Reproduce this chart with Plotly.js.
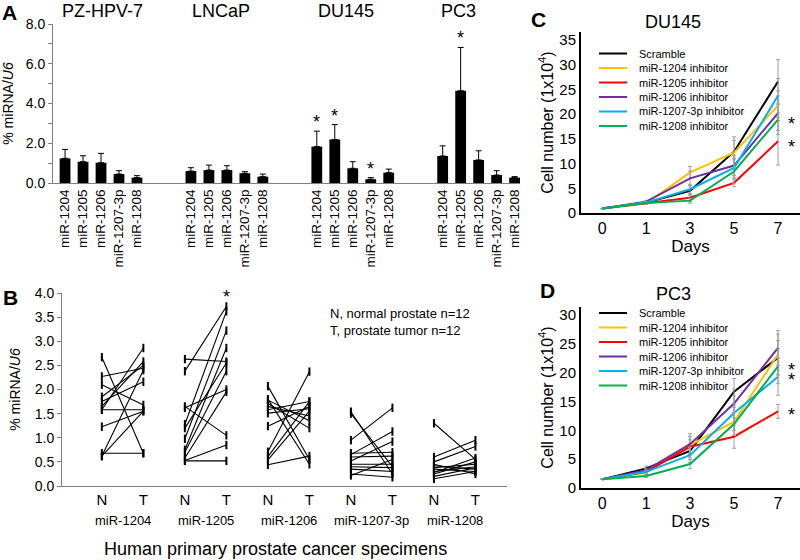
<!DOCTYPE html>
<html><head><meta charset="utf-8">
<script src="https://cdn.plot.ly/plotly-3.0.1.min.js"></script>
<style>html,body{margin:0;padding:0;background:#fff}#chart{width:800px;height:560px}</style>
</head><body><div id="chart"></div>
<script>
// ---------- Panel A data ----------
const cellLines = ['PZ-HPV-7', 'LNCaP', 'DU145', 'PC3'];
const mirnas = ['miR-1204', 'miR-1205', 'miR-1206', 'miR-1207-3p', 'miR-1208'];
const exprPZ = [1.24, 1.07, 1.02, 0.45, 0.27];
const errPZ = [0.45, 0.30, 0.47, 0.17, 0.10];
const exprLNCaP = [0.60, 0.65, 0.65, 0.49, 0.32];
const errLNCaP = [0.17, 0.25, 0.22, 0.08, 0.13];
const exprDU145 = [1.83, 2.19, 0.74, 0.19, 0.52];
const errDU145 = [0.78, 0.75, 0.33, 0.08, 0.18];
const exprPC3 = [1.36, 4.64, 1.16, 0.40, 0.27];
const errPC3 = [0.51, 2.18, 0.46, 0.22, 0.05];
const starsA = [[2, 0], [2, 1], [2, 3], [3, 1]]; // [cell line, miRNA]

// ---------- Panel B data (12 paired specimens) ----------
const normal1204 = [2.67, 2.27, 2.10, 1.85, 1.75, 1.65, 1.58, 1.58, 1.23, 0.68, 0.62, 0.62];
const tumor1204  = [0.68, 2.44, 1.68, 2.50, 2.16, 2.58, 1.58, 2.86, 1.55, 0.68, 1.55, 2.40];
const normal1205 = [2.63, 2.38, 1.65, 1.62, 1.28, 1.20, 0.98, 0.75, 0.70, 0.58, 0.53, 0.52];
const tumor1205  = [2.58, 3.72, 1.05, 2.00, 3.62, 2.55, 3.22, 2.86, 2.38, 1.95, 0.85, 0.52];
const normal1206 = [2.07, 1.80, 1.78, 1.71, 1.65, 1.58, 1.51, 1.24, 0.71, 0.61, 0.54, 0.44];
const tumor1206  = [0.55, 0.45, 1.35, 1.20, 1.45, 1.75, 1.60, 1.65, 2.37, 1.75, 1.55, 0.62];
const normal1207 = [1.54, 1.50, 0.95, 0.68, 0.65, 0.60, 0.52, 0.45, 0.40, 0.35, 0.25, 0.22];
const tumor1207  = [0.25, 0.40, 1.62, 0.70, 1.13, 0.62, 0.92, 0.45, 0.38, 0.30, 0.18, 0.55];
const normal1208 = [1.30, 0.60, 0.50, 0.45, 0.42, 0.38, 0.35, 0.30, 0.28, 0.25, 0.20, 0.15];
const tumor1208  = [0.55, 0.95, 0.82, 0.25, 0.35, 0.45, 0.30, 0.40, 0.58, 0.50, 0.38, 0.30];
const pairLabels = ['N', 'T'];

// ---------- Panels C/D data ----------
const days = ['0', '1', '3', '5', '7'];
const seriesNames = ['Scramble', 'miR-1204 inhibitor', 'miR-1205 inhibitor', 'miR-1206 inhibitor', 'miR-1207-3p inhibitor', 'miR-1208 inhibitor'];
const seriesColors = ['#000000', '#FFC000', '#FF0000', '#7030A0', '#00B0F0', '#00B050'];

const duScramble = [0.9, 2.1, 4.5, 12.4, 26.6];
const du1204 = [0.9, 1.9, 8.2, 12.2, 21.7];
const du1205 = [0.9, 2.0, 3.1, 6.1, 14.5];
const du1206 = [0.9, 2.3, 7.0, 9.6, 20.2];
const du1207 = [0.9, 2.1, 4.8, 9.1, 23.7];
const du1208 = [0.9, 2.0, 2.5, 8.4, 18.9];
const duScrambleErr = [null, 0.2, 1.0, 3.0, 4.4];
const du1204Err = [null, 0.2, 1.2, 2.5, 3.0];
const du1205Err = [null, 0.2, 0.8, 0.8, 4.8];
const du1206Err = [null, 0.2, 1.5, 2.0, 3.5];
const du1207Err = [null, 0.2, 1.0, 2.0, 3.5];
const du1208Err = [null, 0.2, 0.5, 2.5, 3.0];

const pcScramble = [1.5, 3.4, 6.45, 16.7, 22.6];
const pc1204 = [1.5, 2.65, 7.45, 11.5, 23.2];
const pc1205 = [1.5, 2.8, 7.15, 8.9, 13.3];
const pc1206 = [1.5, 3.1, 7.6, 14.65, 24.3];
const pc1207 = [1.5, 2.8, 5.7, 13.0, 19.3];
const pc1208 = [1.5, 2.1, 4.15, 11.1, 21.1];
const pcScrambleErr = [null, 0.4, 1.2, 2.3, 3.0];
const pc1204Err = [null, 0.3, 1.5, 2.5, 3.5];
const pc1205Err = [null, 0.3, 1.2, 2.0, 1.2];
const pc1206Err = [null, 0.3, 1.8, 2.5, 3.0];
const pc1207Err = [null, 0.3, 1.3, 3.0, 3.2];
const pc1208Err = [null, 0.3, 0.8, 2.0, 3.0];

// ---------- build ----------
const FONT = 'Liberation Sans, Arial, sans-serif';
const W = 800, H = 560;
const px = x => x / W;
const py = y => 1 - y / H;

const traces = [];
const annotations = [];
const shapes = [];
function note(o) {
  annotations.push(Object.assign({showarrow: false, xanchor: 'center', yanchor: 'middle'}, o));
}

// Panel A bars
const groupsA = [[exprPZ, errPZ], [exprLNCaP, errLNCaP], [exprDU145, errDU145], [exprPC3, errPC3]];
const GROUP_STEP = 7;
const barX = [], barY = [], barErr = [], tickText = [];
groupsA.forEach((g, gi) => {
  g[0].forEach((v, i) => {
    barX.push(gi * GROUP_STEP + i); barY.push(v); barErr.push(g[1][i]); tickText.push(mirnas[i]);
  });
});
traces.push({
  type: 'bar', x: barX, y: barY, width: 0.6, xaxis: 'x', yaxis: 'y',
  marker: {color: '#000'}, showlegend: false, hoverinfo: 'skip',
  error_y: {type: 'data', symmetric: false, array: barErr, arrayminus: barErr.map(() => 0), color: '#000', thickness: 1, width: 3}
});
starsA.forEach(([gi, i]) => {
  note({xref: 'x', yref: 'y', x: gi * GROUP_STEP + i, y: groupsA[gi][0][i] + groupsA[gi][1][i],
    text: '*', yshift: 9, font: {family: FONT, size: 18, color: '#000'}});
});
const titleXA = [102, 221, 346, 458];
cellLines.forEach((c, gi) => {
  note({xref: 'paper', yref: 'paper', x: px(titleXA[gi]), y: py(11), text: c, font: {family: FONT, size: 18, color: '#000'}});
});

// Panel B pairs
const pairsB = [[normal1204, tumor1204], [normal1205, tumor1205], [normal1206, tumor1206], [normal1207, tumor1207], [normal1208, tumor1208]];
pairsB.forEach((p, gi) => {
  p[0].forEach((n, k) => {
    traces.push({
      type: 'scatter', mode: 'lines+markers', x: [2 * gi, 2 * gi + 1], y: [n, p[1][k]],
      xaxis: 'x2', yaxis: 'y2', showlegend: false, hoverinfo: 'skip',
      line: {color: '#000', width: 1.1},
      marker: {symbol: 'line-ns-open', size: 6, color: '#000', line: {color: '#000', width: 2}}
    });
  });
  note({xref: 'x2', yref: 'paper', x: 2 * gi + 0.5, y: py(520), text: mirnas[gi], font: {family: FONT, size: 13, color: '#000'}});
});
note({xref: 'x2', yref: 'y2', x: 3, y: Math.max(...tumor1205), text: '*', yshift: 10, font: {family: FONT, size: 18, color: '#000'}});
note({xref: 'paper', yref: 'paper', x: px(328), y: py(313), xanchor: 'left', text: 'N, normal prostate n=12',
  font: {family: FONT, size: 13, color: '#000'}});
note({xref: 'paper', yref: 'paper', x: px(328), y: py(330), xanchor: 'left', text: 'T, prostate tumor n=12',
  font: {family: FONT, size: 13, color: '#000'}});
note({xref: 'paper', yref: 'paper', x: px(275), y: py(549), text: 'Human primary prostate cancer specimens',
  font: {family: FONT, size: 18, color: '#000'}});

// Panels C & D
const duVals = [duScramble, du1204, du1205, du1206, du1207, du1208];
const duErrs = [duScrambleErr, du1204Err, du1205Err, du1206Err, du1207Err, du1208Err];
const pcVals = [pcScramble, pc1204, pc1205, pc1206, pc1207, pc1208];
const pcErrs = [pcScrambleErr, pc1204Err, pc1205Err, pc1206Err, pc1207Err, pc1208Err];
function growth(vals, errs, xa, ya) {
  vals.forEach((v, s) => {
    traces.push({
      type: 'scatter', mode: 'lines', x: days, y: v, name: seriesNames[s], xaxis: xa, yaxis: ya,
      showlegend: false, hoverinfo: 'skip',
      line: {color: seriesColors[s], width: 2},
      error_y: {type: 'data', array: errs[s], color: '#a0a0a0', thickness: 1, width: 2}
    });
  });
}
growth(duVals, duErrs, 'x3', 'y3');
growth(pcVals, pcErrs, 'x4', 'y4');

function legend(top) {
  seriesNames.forEach((n, s) => {
    const y = top + s * 14.5;
    shapes.push({type: 'line', xref: 'paper', yref: 'paper', x0: px(599), x1: px(627), y0: py(y), y1: py(y),
      line: {color: seriesColors[s], width: 2}});
    note({xref: 'paper', yref: 'paper', x: px(637), y: py(y), xanchor: 'left', text: n,
      font: {family: FONT, size: 11, color: '#000'}});
  });
}
legend(53.5);
legend(313);

note({xref: 'paper', yref: 'paper', x: px(673), y: py(22), text: 'DU145', font: {family: FONT, size: 18, color: '#000'}});
note({xref: 'paper', yref: 'paper', x: px(673), y: py(294), text: 'PC3', font: {family: FONT, size: 18, color: '#000'}});
// significance stars C / D
[18.5, 13.8].forEach(v => note({xref: 'x3', yref: 'y3', x: 4.3, y: v, yshift: -2, text: '*',
  font: {family: FONT, size: 18, color: '#000'}}));
[21.0, 19.3, 13.1].forEach(v => note({xref: 'x4', yref: 'y4', x: 4.3, y: v, yshift: -3, text: '*',
  font: {family: FONT, size: 18, color: '#000'}}));

// panel letters
[['A', 9, 12], ['B', 10, 297], ['C', 538, 20], ['D', 547, 290]].forEach(([t, x, y]) => note({
  xref: 'paper', yref: 'paper', x: px(x), y: py(y), text: '<b>' + t + '</b>',
  font: {family: FONT, size: 21, color: '#000'}}));

const grayAxis = {showline: true, linecolor: '#808080', linewidth: 1, showgrid: false, zeroline: false,
  tickfont: {family: FONT, size: 14, color: '#000'}};
const blackAxis = {showline: true, linecolor: '#000', linewidth: 2, showgrid: false, zeroline: false,
  tickfont: {family: FONT, size: 16, color: '#000'}};

const layout = {
  width: W, height: H, autosize: false, margin: {l: 0, r: 0, t: 0, b: 0},
  paper_bgcolor: '#fff', plot_bgcolor: 'rgba(0,0,0,0)', showlegend: false,
  font: {family: FONT, color: '#000'},
  xaxis: Object.assign({}, grayAxis, {domain: [px(53), px(520)], anchor: 'y', range: [-0.67, 25.3],
    tickmode: 'array', tickvals: barX, ticktext: tickText, tickangle: -90, ticks: '', tickfont: {family: FONT, size: 13.5, color: '#000'}}),
  yaxis: Object.assign({}, grayAxis, {domain: [py(183), py(24)], anchor: 'x', range: [0, 8], dtick: 2, tickformat: '.1f',
    ticks: 'outside', ticklen: 4, tickcolor: '#808080', minor: {dtick: 1, ticks: 'outside', ticklen: 4, tickcolor: '#808080'},
    title: {text: '% miRNA/<i>U6</i>', font: {family: FONT, size: 14, color: '#000'}, standoff: 10}}),
  xaxis2: Object.assign({}, grayAxis, {domain: [px(62), px(507)], anchor: 'y2', range: [-0.96, 9.76],
    tickmode: 'array', tickvals: [0,1,2,3,4,5,6,7,8,9], ticktext: mirnas.flatMap(() => pairLabels), ticks: '',
    tickfont: {family: FONT, size: 15, color: '#000'}}),
  yaxis2: Object.assign({}, grayAxis, {domain: [py(486), py(293)], anchor: 'x2', range: [0, 4], dtick: 0.5, tickformat: '.1f',
    ticks: 'outside', ticklen: 4, tickcolor: '#808080',
    title: {text: '% miRNA/<i>U6</i>', font: {family: FONT, size: 14, color: '#000'}, standoff: 10}}),
  xaxis3: Object.assign({}, blackAxis, {domain: [px(581), 1], anchor: 'y3', type: 'category', range: [-0.48, 4.5], ticks: '',
    title: {text: 'Days', font: {family: FONT, size: 17, color: '#000'}, standoff: 2}}),
  yaxis3: Object.assign({}, blackAxis, {domain: [py(213), py(32)], anchor: 'x3', range: [0, 36.6], dtick: 5, ticks: '',
    tickfont: {family: FONT, size: 15, color: '#000'},
    title: {text: 'Cell number (1x10<sup>4</sup>)', font: {family: FONT, size: 16, color: '#000'}, standoff: 2}}),
  xaxis4: Object.assign({}, blackAxis, {domain: [px(581), 1], anchor: 'y4', type: 'category', range: [-0.48, 4.5], ticks: '',
    title: {text: 'Days', font: {family: FONT, size: 17, color: '#000'}, standoff: 2}}),
  yaxis4: Object.assign({}, blackAxis, {domain: [py(488), py(307)], anchor: 'x4', range: [0, 31.4], dtick: 5, ticks: '',
    tickfont: {family: FONT, size: 15, color: '#000'},
    title: {text: 'Cell number (1x10<sup>4</sup>)', font: {family: FONT, size: 16, color: '#000'}, standoff: 2}}),
  annotations: annotations,
  shapes: shapes
};

Plotly.newPlot('chart', traces, layout, {staticPlot: true, displayModeBar: false});
</script></body></html>
